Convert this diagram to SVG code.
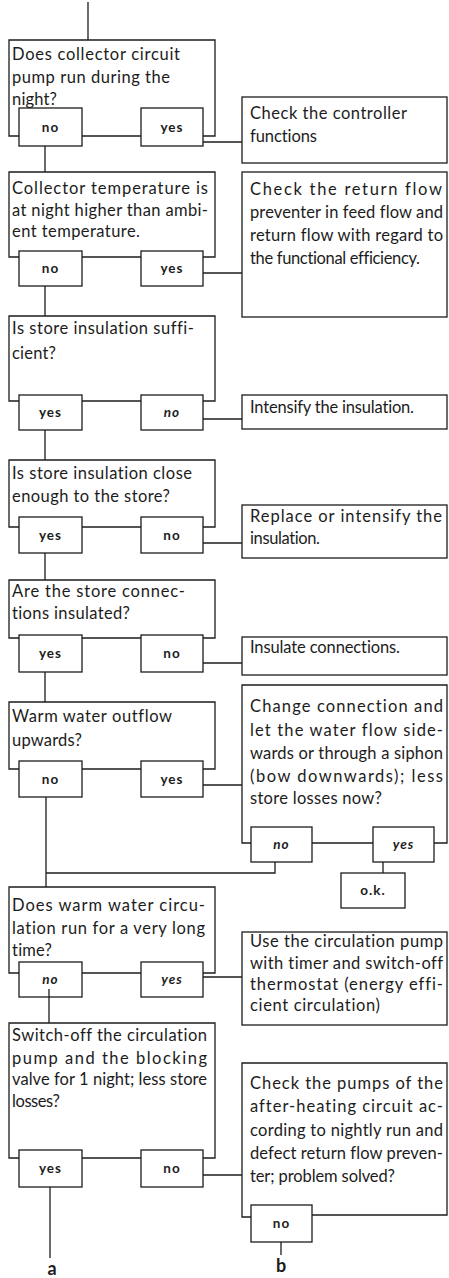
<svg xmlns="http://www.w3.org/2000/svg" width="449" height="1278" viewBox="0 0 449 1278">
<style>
.f{fill:none;stroke:#1c1c1c;stroke-width:1.3}
.b{fill:#fff;stroke:#1c1c1c;stroke-width:1.3}
.c{fill:none;stroke:#1c1c1c;stroke-width:1.3}
text{font-family:Lato,"Liberation Sans",sans-serif;fill:#1c1c1c;font-variant-ligatures:none;font-feature-settings:"liga" 0,"dlig" 0}
.t{font-size:16.5px}
.l{font-size:13.5px;font-weight:bold;text-anchor:middle;letter-spacing:1px}
.i{font-style:italic}
.m{font-size:18px;font-weight:bold;text-anchor:middle}
</style>
<rect width="449" height="1278" fill="#fff"/>

<g id="q1">
<path class="f" d="M19,136 H9 V40 H215 V136 H203 M82,136 H141"/>
<text class="t" x="12" y="60" textLength="168" lengthAdjust="spacing">Does collector circuit</text>
<text class="t" x="12" y="83" textLength="158" lengthAdjust="spacing">pump run during the</text>
<text class="t" x="12" y="105" textLength="45" lengthAdjust="spacing">night?</text>
<rect class="b" x="19" y="108" width="63" height="38"/><text class="l" x="50.5" y="132">no</text>
<rect class="b" x="141" y="108" width="62" height="38"/><text class="l" x="172" y="132">yes</text>
</g>
<g id="a1">
<rect class="b" x="242" y="97" width="205" height="66"/>
<text class="t" x="250" y="119" textLength="157" lengthAdjust="spacing">Check the controller</text>
<text class="t" x="250" y="142" textLength="67" lengthAdjust="spacing">functions</text>
</g>

<g id="q2">
<path class="f" d="M19,257 H9 V172 H215 V257 H203 M82,257 H141"/>
<text class="t" x="12" y="194" textLength="196" lengthAdjust="spacing">Collector temperature is</text>
<text class="t" x="12" y="216" textLength="196" lengthAdjust="spacing">at night higher than ambi-</text>
<text class="t" x="12" y="237" textLength="128" lengthAdjust="spacing">ent temperature.</text>
<rect class="b" x="19" y="251" width="63" height="35"/><text class="l" x="50.5" y="273">no</text>
<rect class="b" x="141" y="251" width="62" height="35"/><text class="l" x="172" y="273">yes</text>
</g>
<g id="a2">
<rect class="b" x="242" y="172" width="205" height="145"/>
<text class="t" x="250" y="195" textLength="192" lengthAdjust="spacing">Check the return flow</text>
<text class="t" x="250" y="218" textLength="193" lengthAdjust="spacing">preventer in feed flow and</text>
<text class="t" x="250" y="241" textLength="193" lengthAdjust="spacing">return flow with regard to</text>
<text class="t" x="250" y="264" textLength="170" lengthAdjust="spacing">the functional efficiency.</text>
</g>

<g id="q3">
<path class="f" d="M19,401 H9 V316 H215 V401 H203 M82,401 H141"/>
<text class="t" x="12" y="334" textLength="182" lengthAdjust="spacing">Is store insulation suffi-</text>
<text class="t" x="12" y="359" textLength="44" lengthAdjust="spacing">cient?</text>
<rect class="b" x="19" y="395" width="63" height="35"/><text class="l" x="50.5" y="417">yes</text>
<rect class="b" x="141" y="395" width="62" height="35"/><text class="l i" x="172" y="417">no</text>
</g>
<g id="a3">
<rect class="b" x="242" y="395" width="205" height="34"/>
<text class="t" x="250" y="413" textLength="164" lengthAdjust="spacing">Intensify the insulation.</text>
</g>

<g id="q4">
<path class="f" d="M19,527 H9 V460 H215 V527 H203 M82,527 H141"/>
<text class="t" x="12" y="479" textLength="180" lengthAdjust="spacing">Is store insulation close</text>
<text class="t" x="12" y="502" textLength="158" lengthAdjust="spacing">enough to the store?</text>
<rect class="b" x="19" y="517" width="63" height="36"/><text class="l" x="50.5" y="540">yes</text>
<rect class="b" x="141" y="517" width="62" height="36"/><text class="l" x="172" y="540">no</text>
</g>
<g id="a4">
<rect class="b" x="242" y="505" width="205" height="53"/>
<text class="t" x="250" y="522" textLength="192" lengthAdjust="spacing">Replace or intensify the</text>
<text class="t" x="250" y="544" textLength="70" lengthAdjust="spacing">insulation.</text>
</g>

<g id="q5">
<path class="f" d="M19,638 H9 V580 H215 V638 H203 M82,638 H141"/>
<text class="t" x="12" y="597" textLength="173" lengthAdjust="spacing">Are the store connec-</text>
<text class="t" x="12" y="619" textLength="118" lengthAdjust="spacing">tions insulated?</text>
<rect class="b" x="19" y="635" width="63" height="37"/><text class="l" x="50.5" y="658">yes</text>
<rect class="b" x="141" y="635" width="62" height="37"/><text class="l" x="172" y="658">no</text>
</g>
<g id="a5">
<rect class="b" x="242" y="637" width="205" height="38"/>
<text class="t" x="250" y="653" textLength="150" lengthAdjust="spacing">Insulate connections.</text>
</g>

<g id="q6">
<path class="f" d="M19,769 H9 V702 H215 V769 H203 M82,769 H141"/>
<text class="t" x="12" y="722" textLength="160" lengthAdjust="spacing">Warm water outflow</text>
<text class="t" x="12" y="746" textLength="70" lengthAdjust="spacing">upwards?</text>
<rect class="b" x="19" y="761" width="63" height="36"/><text class="l" x="50.5" y="784">no</text>
<rect class="b" x="141" y="761" width="62" height="36"/><text class="l" x="172" y="784">yes</text>
</g>
<g id="a6">
<path class="f" d="M251,843 H242 V685 H447 V843 H434 M312,843 H373"/>
<text class="t" x="250" y="712" textLength="193" lengthAdjust="spacing">Change connection and</text>
<text class="t" x="250" y="736" textLength="193" lengthAdjust="spacing">let the water flow side-</text>
<text class="t" x="250" y="759" textLength="193" lengthAdjust="spacing">wards or through a siphon</text>
<text class="t" x="250" y="782" textLength="193" lengthAdjust="spacing">(bow downwards); less</text>
<text class="t" x="250" y="804" textLength="132" lengthAdjust="spacing">store losses now?</text>
<rect class="b" x="251" y="827" width="61" height="35"/><text class="l i" x="281.5" y="849">no</text>
<rect class="b" x="373" y="827" width="61" height="35"/><text class="l i" x="403.5" y="849">yes</text>
</g>
<g id="ok">
<rect class="b" x="341" y="873" width="64" height="35"/><text class="l" x="373" y="895">o.k.</text>
</g>

<g id="q7">
<path class="f" d="M19,973 H9 V887 H215 V973 H203 M82,973 H141"/>
<text class="t" x="12" y="911" textLength="193" lengthAdjust="spacing">Does warm water circu-</text>
<text class="t" x="12" y="934" textLength="193" lengthAdjust="spacing">lation run for a very long</text>
<text class="t" x="12" y="956" textLength="40" lengthAdjust="spacing">time?</text>
<rect class="b" x="19" y="962" width="63" height="35"/><text class="l i" x="50.5" y="984">no</text>
<rect class="b" x="141" y="962" width="62" height="35"/><text class="l i" x="172" y="984">yes</text>
</g>
<g id="a7">
<rect class="b" x="242" y="932" width="205" height="93"/>
<text class="t" x="250" y="947" textLength="193" lengthAdjust="spacing">Use the circulation pump</text>
<text class="t" x="250" y="969" textLength="193" lengthAdjust="spacing">with timer and switch-off</text>
<text class="t" x="250" y="990" textLength="193" lengthAdjust="spacing">thermostat (energy effi-</text>
<text class="t" x="250" y="1011" textLength="130" lengthAdjust="spacing">cient circulation)</text>
</g>

<g id="q8">
<path class="f" d="M19,1158 H9 V1023 H215 V1158 H203 M82,1158 H141"/>
<text class="t" x="12" y="1041" textLength="195" lengthAdjust="spacing">Switch-off the circulation</text>
<text class="t" x="12" y="1064" textLength="195" lengthAdjust="spacing">pump and the blocking</text>
<text class="t" x="12" y="1085" textLength="195" lengthAdjust="spacing">valve for 1 night; less store</text>
<text class="t" x="12" y="1107" textLength="48" lengthAdjust="spacing">losses?</text>
<rect class="b" x="19" y="1150" width="63" height="37"/><text class="l" x="50.5" y="1173">yes</text>
<rect class="b" x="141" y="1150" width="62" height="37"/><text class="l" x="172" y="1173">no</text>
</g>
<g id="a8">
<path class="f" d="M251,1217 H242 V1063 H447 V1215 H312"/>
<text class="t" x="250" y="1089" textLength="193" lengthAdjust="spacing">Check the pumps of the</text>
<text class="t" x="250" y="1112" textLength="193" lengthAdjust="spacing">after-heating circuit ac-</text>
<text class="t" x="250" y="1136" textLength="193" lengthAdjust="spacing">cording to nightly run and</text>
<text class="t" x="250" y="1159" textLength="193" lengthAdjust="spacing">defect return flow preven-</text>
<text class="t" x="250" y="1182" textLength="145" lengthAdjust="spacing">ter; problem solved?</text>
<rect class="b" x="251" y="1205" width="61" height="37"/><text class="l" x="281.5" y="1228">no</text>
</g>

<g id="connectors">
<path class="c" d="M88,2 V40"/>
<path class="c" d="M45,146 V172"/>
<path class="c" d="M203,142 H242"/>
<path class="c" d="M45,286 V316"/>
<path class="c" d="M203,273 H242"/>
<path class="c" d="M45,430 V460"/>
<path class="c" d="M203,419 H242"/>
<path class="c" d="M45,553 V580"/>
<path class="c" d="M203,543 H242"/>
<path class="c" d="M45,672 V702"/>
<path class="c" d="M203,663 H242"/>
<path class="c" d="M46,797 V887 M46,873 H275 V862"/>
<path class="c" d="M203,785 H242"/>
<path class="c" d="M383,862 V873"/>
<path class="c" d="M49,989 V1023"/>
<path class="c" d="M203,977 H242"/>
<path class="c" d="M203,1175 H242"/>
<path class="c" d="M50,1187 V1258"/>
<path class="c" d="M281,1242 V1255"/>
</g>
<g id="labels">
<text class="m" x="52" y="1275">a</text>
<text class="m" x="281" y="1272">b</text>
</g>
</svg>
